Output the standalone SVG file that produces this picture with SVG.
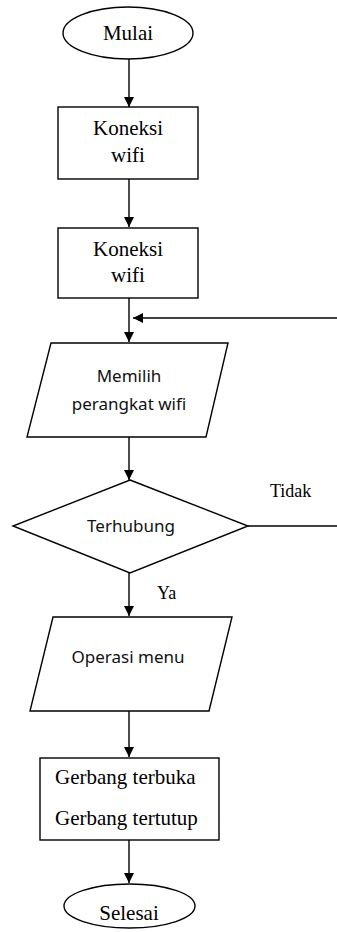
<svg xmlns="http://www.w3.org/2000/svg" width="337" height="932" viewBox="0 0 337 932">
<style>
.s{fill:#fff;stroke:#000;stroke-width:1.4}
.c{fill:none;stroke:#000;stroke-width:1.4}
.serif{font-family:"Liberation Serif","Times New Roman",serif;font-size:21px;fill:#000}
.lbl{font-size:18px}
.sans{font-family:"Noto Sans","Open Sans",sans-serif;font-size:17px;fill:#111}
.m{text-anchor:middle}
</style>
<defs>
<marker id="ah" markerWidth="11" markerHeight="11" refX="10" refY="5" orient="auto" markerUnits="userSpaceOnUse">
<path d="M0,0 L10,5 L0,10 Z" fill="#000"/>
</marker>
</defs>
<rect width="337" height="932" fill="#fff"/>
<g id="connectors">
<line class="c" x1="129" y1="59" x2="129" y2="107" marker-end="url(#ah)"/>
<line class="c" x1="129" y1="179" x2="129" y2="227" marker-end="url(#ah)"/>
<line class="c" x1="129" y1="298" x2="129" y2="342" marker-end="url(#ah)"/>
<line class="c" x1="337" y1="318" x2="133" y2="318" marker-end="url(#ah)"/>
<line class="c" x1="129" y1="437" x2="129" y2="480" marker-end="url(#ah)"/>
<line class="c" x1="248" y1="526" x2="337" y2="526"/>
<line class="c" x1="129" y1="573" x2="129" y2="616" marker-end="url(#ah)"/>
<line class="c" x1="129" y1="711" x2="129" y2="757" marker-end="url(#ah)"/>
<line class="c" x1="129" y1="840" x2="129" y2="883" marker-end="url(#ah)"/>
<text class="serif lbl" x="270" y="497">Tidak</text>
<text class="serif lbl" x="157" y="599">Ya</text>
</g>
<g id="mulai">
<ellipse class="s" cx="128" cy="33" rx="65" ry="26"/>
<text class="serif m" x="128" y="40">Mulai</text>
</g>
<g id="koneksi1">
<rect class="s" x="58" y="107" width="140" height="72"/>
<text class="serif m" x="128" y="135">Koneksi</text>
<text class="serif m" x="128" y="162">wifi</text>
</g>
<g id="koneksi2">
<rect class="s" x="58" y="228" width="140" height="70"/>
<text class="serif m" x="128" y="256">Koneksi</text>
<text class="serif m" x="128" y="282">wifi</text>
</g>
<g id="memilih">
<polygon class="s" points="51,343 228,343 206,437 27,437"/>
<text class="sans m" x="129" y="382">Memilih</text>
<text class="sans m" x="129" y="410">perangkat wifi</text>
</g>
<g id="terhubung">
<polygon class="s" points="130,480 248,526 130,573 13,526"/>
<text class="sans m" x="131" y="532">Terhubung</text>
</g>
<g id="operasi">
<polygon class="s" points="53,617 232,617 209,711 30,711"/>
<text class="sans m" x="128" y="663">Operasi menu</text>
</g>
<g id="gerbang">
<rect class="s" x="40" y="758" width="179" height="82"/>
<text class="serif" x="55" y="784">Gerbang terbuka</text>
<text class="serif" x="55" y="825">Gerbang tertutup</text>
</g>
<g id="selesai">
<ellipse class="s" cx="129.5" cy="906" rx="65.5" ry="22"/>
<text class="serif m" x="129" y="920">Selesai</text>
</g>
</svg>
